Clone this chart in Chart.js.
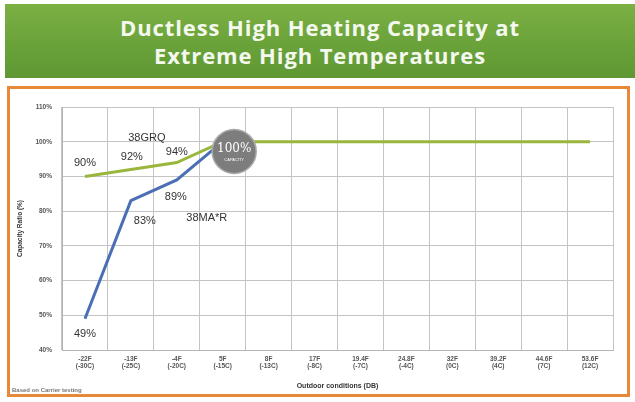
<!DOCTYPE html>
<html>
<head>
<meta charset="utf-8">
<script src="https://cdn.jsdelivr.net/npm/chart.js@4"></script>
<style>
  body { margin: 0; width: 635px; height: 402px; background: #fff; position: relative; overflow: hidden; font-family: "Liberation Sans", Arial, sans-serif; }
  #banner { position: absolute; left: 5px; top: 4px; width: 630px; height: 74px; background: linear-gradient(180deg, #7bb043 0%, #6aa23a 55%, #5f9733 100%); color: #f4f8ee; text-align: center; font-family: "Open Sans", sans-serif; font-weight: bold; font-size: 22px; line-height: 28px; padding-top: 9px; box-sizing: border-box; letter-spacing: 0.9px; }
  #box { position: absolute; left: 7px; top: 86px; width: 617px; height: 305px; border: 3px solid #e8893a; background: #fff; }
  #note { position: absolute; left: 12px; top: 387px; font-size: 6px; color: #777; font-weight: bold; }
</style>
</head>
<body>
<div id="banner">Ductless High Heating Capacity at<br>Extreme High Temperatures</div>
<div id="box"><canvas id="graph" width="617" height="305"></canvas></div>
<div id="note">Based on Carrier testing</div>
<script>

const categories = [
  ['-22F', '(-30C)'], ['-13F', '(-25C)'], ['-4F', '(-20C)'], ['5F', '(-15C)'],
  ['8F', '(-13C)'], ['17F', '(-8C)'], ['19.4F', '(-7C)'], ['24.8F', '(-4C)'],
  ['32F', '(0C)'], ['39.2F', '(4C)'], ['44.6F', '(7C)'], ['53.6F', '(12C)']
];
const grqValues = [90, 92, 94, 100, 100, 100, 100, 100, 100, 100, 100, 100];
const marValues = [49, 83, 89, 100, null, null, null, null, null, null, null, null];
const yTicks = [40, 50, 60, 70, 80, 90, 100, 110];

// point labels drawn next to the line points
const labelPlugin = {
    id: 'pointLabels',
    afterDatasetsDraw: function (chart) {
        var ctx = chart.ctx;
        ctx.save();
        ctx.fillStyle = '#333';
        ctx.font = '11px "Liberation Sans", Arial, sans-serif';
        ctx.textAlign = 'center';
        ctx.textBaseline = 'middle';

        var green = chart.getDatasetMeta(0).data;
        var blue = chart.getDatasetMeta(1).data;

        var greenOff = [[0, -13], [1, -13], [0, -11]];
        for (var i = 0; i < 3; i++) {
            ctx.fillText(grqValues[i] + '%', green[i].x + greenOff[i][0], green[i].y + greenOff[i][1]);
        }
        var blueOff = [[0, 15], [14, 20], [-1, 17]];
        for (var j = 0; j < 3; j++) {
            ctx.fillText(marValues[j] + '%', blue[j].x + blueOff[j][0], blue[j].y + blueOff[j][1]);
        }
        ctx.fillText('38GRQ', green[1].x + 16, green[1].y - 32);
        ctx.fillText('38MA*R', blue[2].x + 30, blue[2].y + 38);

        // grey 100% badge
        var xs = chart.scales.x, ys = chart.scales.y;
        var cx = xs.getPixelForValue(3.25), cy = ys.getPixelForValue(97.2);
        ctx.beginPath();
        ctx.arc(cx, cy, 22, 0, Math.PI * 2);
        ctx.fillStyle = '#7d7d7d';
        ctx.fill();
        ctx.lineWidth = 1.5;
        ctx.strokeStyle = '#a9a9a9';
        ctx.stroke();
        ctx.fillStyle = '#fff';
        ctx.font = '12px "DejaVu Serif", serif';
        ctx.fillText('100%', cx, cy - 3);
        ctx.font = '4px "Liberation Sans", Arial, sans-serif';
        ctx.fillText('CAPACITY', cx, cy + 8);
        ctx.restore();
    }
};

const showGraph = () => {

    var graphTarget = document.getElementById('graph');

    var lineGraph = new Chart(graphTarget, {
        type: 'line',
        data: {
            labels: categories,
            datasets: [
                {
                    label: '38GRQ',
                    data: grqValues,
                    borderColor: '#9ab63c',
                    borderWidth: 3,
                    pointRadius: 0,
                    tension: 0,
                    order: 2
                },
                {
                    label: '38MA*R',
                    data: marValues,
                    borderColor: '#4b6eb4',
                    borderWidth: 3,
                    pointRadius: 0,
                    tension: 0,
                    order: 1
                }
            ]
        },
        options: {
            responsive: false,
            animation: false,
            layout: { padding: { left: 0, right: 14, top: 18, bottom: 0 } },
            plugins: { legend: { display: false }, tooltip: { enabled: false } },
            scales: {
                x: {
                    offset: true,
                    grid: { color: '#c4c4c4', offset: true, drawTicks: false },
                    border: { color: '#b5b5b5' },
                    ticks: { color: '#555', font: { size: 6.5, weight: 'bold' }, padding: 5, maxRotation: 0, autoSkip: false },
                    title: { display: true, text: 'Outdoor conditions (DB)', color: '#333', font: { size: 7, weight: 'bold' }, padding: { top: 2 } },
                    afterFit: function (scale) { scale.height = 44; }
                },
                y: {
                    min: 40,
                    max: 110,
                    afterBuildTicks: function (scale) { scale.ticks = yTicks.map(v => ({ value: v })); },
                    grid: { color: '#c4c4c4', drawTicks: false },
                    border: { color: '#b5b5b5' },
                    ticks: { color: '#555', font: { size: 6.5, weight: 'bold' }, padding: 10, callback: v => v + '%' },
                    title: { display: true, text: 'Capacity Ratio (%)', color: '#333', font: { size: 6.5, weight: 'bold' }, padding: { top: 6, bottom: 0 } },
                    afterFit: function (scale) { scale.width = 52; }
                }
            }
        },
        plugins: [labelPlugin]
    });

}

showGraph();
</script>
</body>
</html>
